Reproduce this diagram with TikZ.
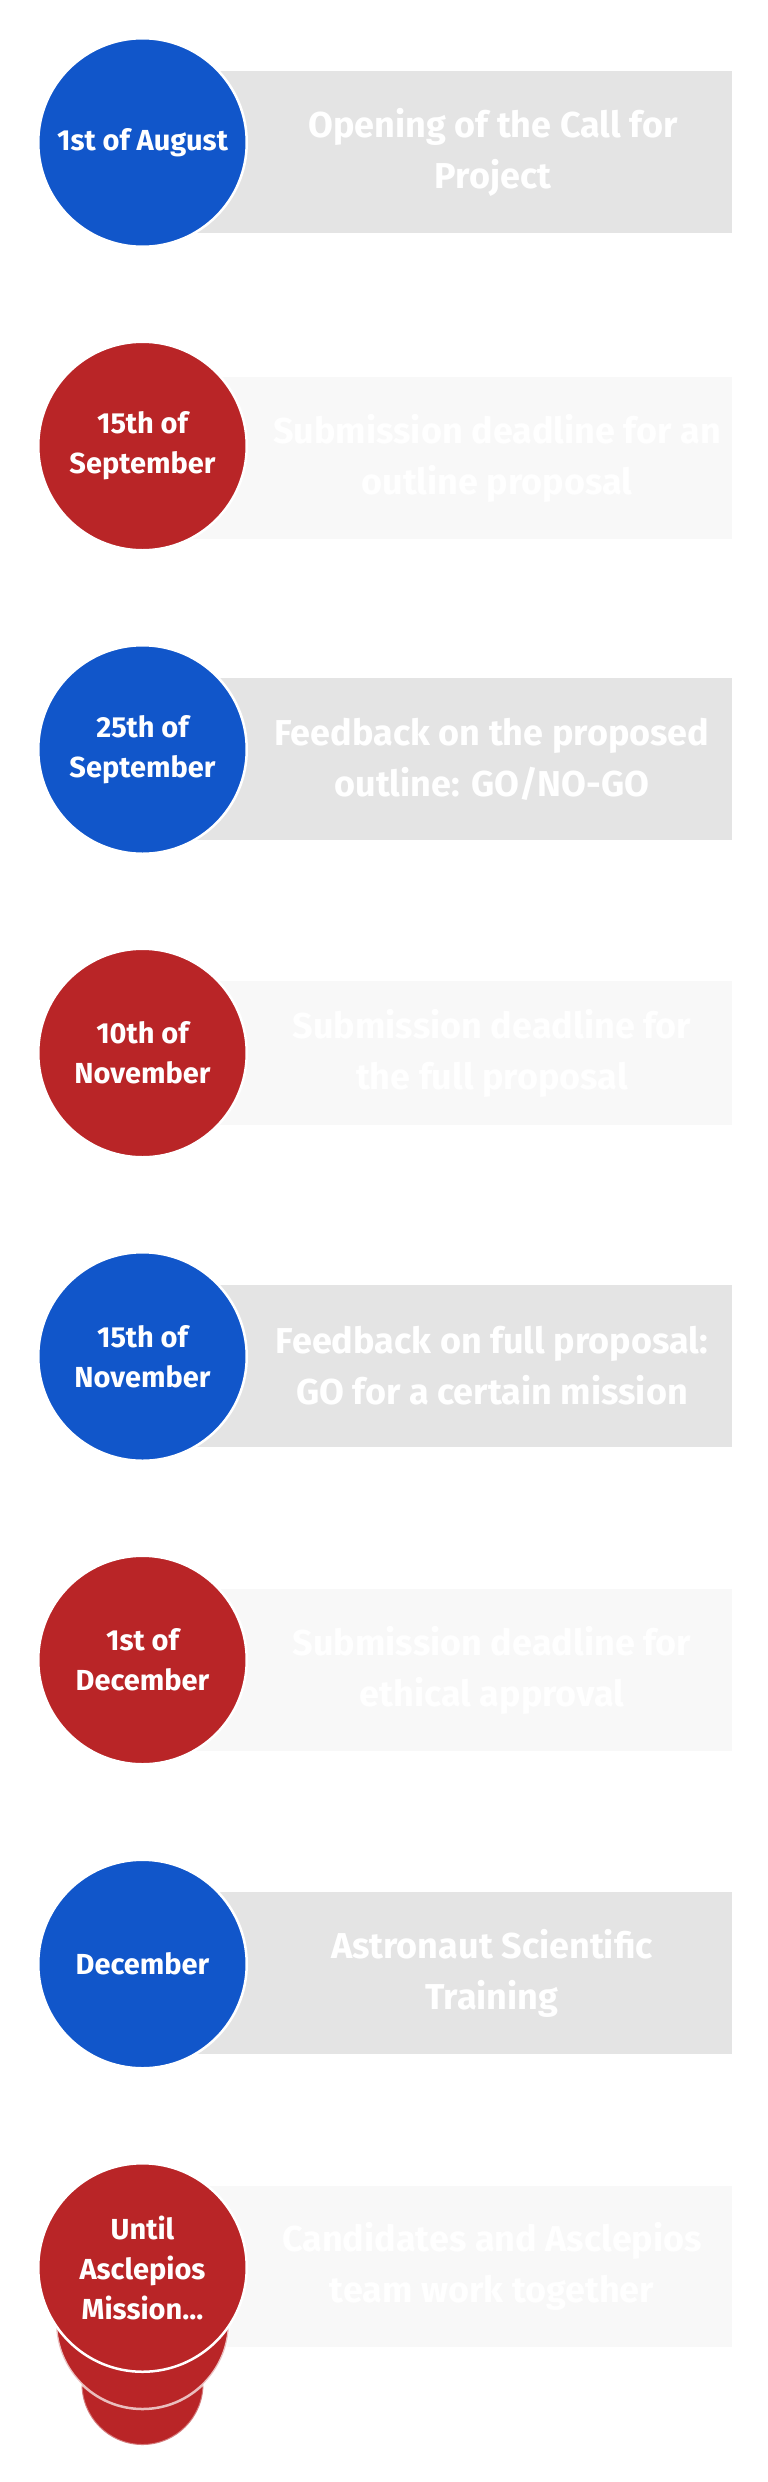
\documentclass[tikz,border=0pt]{standalone}
\usepackage{fontspec}
\newfontfamily\labelfont{Fira Sans}
\definecolor{cblue}{RGB}{17,86,202}
\definecolor{cred}{RGB}{185,37,39}
\definecolor{gdark}{RGB}{228,228,228}
\definecolor{glight}{RGB}{248,248,248}
\tikzset{
  datecircle/.style={circle, minimum size=208.5pt, inner sep=0pt, draw=white, line width=2.5pt,
    text=white, align=center, font=\labelfont\bfseries\fontsize{29}{40}\selectfont},
  bluedate/.style={datecircle, fill=cblue},
  reddate/.style={datecircle, fill=cred},
  descbox/.style={rectangle, inner sep=0pt, anchor=north west, minimum width=590pt},
  bluebox/.style={descbox, fill=gdark},
  redbox/.style={descbox, fill=glight},
  desctext/.style={text=white, align=center, inner sep=0pt,
    font=\labelfont\bfseries\fontsize{36}{51}\selectfont},
  stackcircle/.style={circle, inner sep=0pt, fill=cred}
}
\begin{document}
\begin{tikzpicture}[x=1pt,y=-1pt]
\useasboundingbox[fill=white] (0,0) rectangle (768,2482);

% ---- block 1
\node[bluebox, minimum height=162pt] (r1) at (142,71) {};
\node[bluedate] (c1) at (142.5,142.5) {1st of August};
\node[desctext] (t1) at (493,152) {Opening of the Call for\\Project};

% ---- block 2
\node[redbox, minimum height=162pt] (r2) at (142,377) {};
\node[reddate] (c2) at (142.5,446) {15th of\\September};
\node[desctext] (t2) at (497,458) {Submission deadline for an\\outline proposal};

% ---- block 3
\node[bluebox, minimum height=162pt] (r3) at (142,678) {};
\node[bluedate] (c3) at (142.5,749.5) {25th of\\September};
\node[desctext] (t3) at (492,759) {Feedback on the proposed\\outline: GO/NO-GO};

% ---- block 4
\node[redbox, minimum height=144pt] (r4) at (142,981) {};
\node[reddate] (c4) at (142.5,1053) {10th of\\November};
\node[desctext] (t4) at (492,1053) {Submission deadline for\\the full proposal};

% ---- block 5
\node[bluebox, minimum height=162pt] (r5) at (142,1285) {};
\node[bluedate] (c5) at (142.5,1356.5) {15th of\\November};
\node[desctext] (t5) at (492,1366) {Feedback on full proposal:\\GO for a certain mission};

% ---- block 6
\node[redbox, minimum height=162pt] (r6) at (142,1589) {};
\node[reddate] (c6) at (142.5,1660) {1st of\\December};
\node[desctext] (t6) at (492,1670) {Submission deadline for\\ethical approval};

% ---- block 7
\node[bluebox, minimum height=162pt] (r7) at (142,1892) {};
\node[bluedate] (c7) at (142.5,1964) {December};
\node[desctext] (t7) at (492,1973) {Astronaut Scientific\\Training};

% ---- block 8
\node[redbox, minimum height=161pt] (r8) at (142,2186) {};
\node[stackcircle, minimum size=122pt, draw=white, draw opacity=0.4, line width=2pt] (s2) at (142.5,2384) {};
\node[stackcircle, minimum size=173pt, draw=white, draw opacity=0.7, line width=2.5pt] (s1) at (142.5,2322.5) {};
\node[reddate] (c8) at (142.5,2267.5) {Until\\Asclepios\\Mission...};
\node[desctext] (t8) at (492,2266) {Candidates and Asclepios\\team work together};
\end{tikzpicture}
\end{document}
